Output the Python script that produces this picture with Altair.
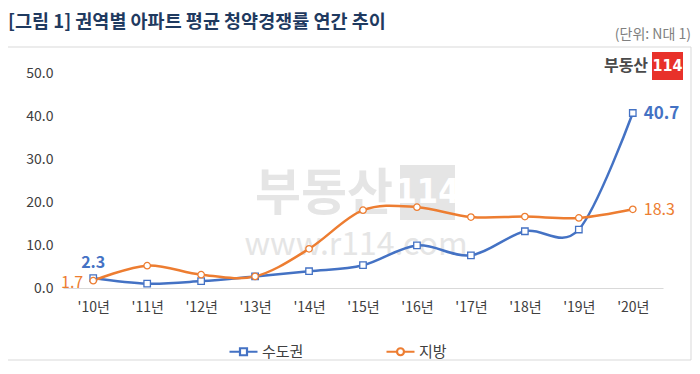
import altair as alt
import pandas as pd

# ---- data ----
years = ["'10년", "'11년", "'12년", "'13년", "'14년", "'15년",
         "'16년", "'17년", "'18년", "'19년", "'20년"]
capital = [2.3, 1.0, 1.6, 2.7, 3.9, 5.3, 9.9, 7.6, 13.2, 13.6, 40.7]
local = [1.7, 5.2, 3.1, 2.7, 9.1, 18.1, 18.8, 16.5, 16.6, 16.3, 18.3]
series_names = ["수도권", "지방"]
colors = ["#4472C4", "#ED7D31"]
y_ticks = [0, 10, 20, 30, 40, 50]

title_text = "[그림 1] 권역별 아파트 평균 청약경쟁률 연간 추이"
unit_text = "(단위: N대 1)"

rows = []
for i, yr in enumerate(years):
    rows.append({"year": yr, "series": series_names[0], "value": capital[i], "idx": i})
    rows.append({"year": yr, "series": series_names[1], "value": local[i], "idx": i})
df = pd.DataFrame(rows)
last = len(years) - 1

FONT = "Noto Sans CJK KR"
BLUE, ORANGE = colors

x_enc = alt.X("year:N", sort=years,
              scale=alt.Scale(type="point", padding=0.56),
              axis=alt.Axis(title=None, labelAngle=0, ticks=False, grid=False,
                            domainColor="#d9d9d9", domainWidth=1,
                            labelPadding=12, labelFontSize=14,
                            labelColor="#404040", labelFont=FONT))
y_enc = alt.Y("value:Q", scale=alt.Scale(domain=[0, 50], nice=False),
              axis=alt.Axis(title=None, values=y_ticks, format=".1f", ticks=False,
                            domain=False, grid=False, labelPadding=10,
                            labelFontSize=14, labelColor="#404040", labelFont=FONT))
color_scale = alt.Scale(domain=series_names, range=colors)

sq_path = "M-1,0H-0.25M0.25,0H1M-0.25,-0.25H0.25V0.25H-0.25Z"
ci_path = ("M-1,0H-0.25M0.25,0H1M-0.25,0A0.25,0.25 0 1,0 0.25,0"
           "A0.25,0.25 0 1,0 -0.25,0Z")
shape_scale = alt.Scale(domain=series_names, range=[sq_path, ci_path])

legend_def = alt.Legend(orient="none", legendX=165, legendY=263,
                        direction="horizontal", title=None)

base = alt.Chart(df)
one = alt.Data(values=[{}])

# frame
frame = alt.Chart(one).mark_rect(fillOpacity=0, stroke="#d9d9d9", strokeWidth=1).encode(
    x=alt.value(-60), x2=alt.value(628), y=alt.value(-26), y2=alt.value(287))

# title & unit
title = alt.Chart(one).mark_text(align="left", baseline="middle", fontSize=18.5,
                                 fontWeight="bold", font=FONT, color="#1f3a60").encode(
    x=alt.value(-55), y=alt.value(-51), text=alt.value(title_text))
unit = alt.Chart(one).mark_text(align="right", baseline="middle", fontSize=14,
                                font=FONT, color="#808080").encode(
    x=alt.value(628), y=alt.value(-38), text=alt.value(unit_text))

# watermark
WM = "#e5e5e5"
wm1 = alt.Chart(one).mark_text(align="center", baseline="middle", fontSize=50,
                               fontWeight="bold", font=FONT, color=WM).encode(
    x=alt.value(261), y=alt.value(122), text=alt.value("부동산"))
wm_box = alt.Chart(one).mark_rect(color=WM).encode(
    x=alt.value(337), x2=alt.value(392), y=alt.value(92), y2=alt.value(147))
wm2 = alt.Chart(one).mark_text(align="center", baseline="middle", fontSize=34,
                               fontWeight="bold", font="DejaVu Sans Condensed",
                               color="white").encode(
    x=alt.value(364.5), y=alt.value(120), text=alt.value("114"))
wm3 = alt.Chart(one).mark_text(align="center", baseline="middle", fontSize=32,
                               font=FONT, color=WM).encode(
    x=alt.value(293), y=alt.value(172), text=alt.value("www.r114.com"))

# logo
logo1 = alt.Chart(one).mark_text(align="center", baseline="middle", fontSize=16,
                                 fontWeight="bold", font=FONT, color="#4a4a4a").encode(
    x=alt.value(563), y=alt.value(-7), text=alt.value("부동산"))
logo_box = alt.Chart(one).mark_rect(color="#e8312a").encode(
    x=alt.value(589), x2=alt.value(620), y=alt.value(-21), y2=alt.value(7))
logo2 = alt.Chart(one).mark_text(align="center", baseline="middle", fontSize=16,
                                 fontWeight="bold", font="DejaVu Sans Condensed",
                                 color="white").encode(
    x=alt.value(604.5), y=alt.value(-7), text=alt.value("114"))

# lines
lines = base.mark_line(interpolate="cardinal", strokeWidth=2.5).encode(
    x=x_enc, y=y_enc,
    color=alt.Color("series:N", scale=color_scale, legend=legend_def))

pts_cap = base.transform_filter(alt.datum.series == series_names[0]).mark_point(
    shape="square", filled=True, fill="white", stroke=BLUE, strokeWidth=1.3,
    size=42, opacity=1).encode(x=x_enc, y=y_enc)
pts_loc = base.transform_filter(alt.datum.series == series_names[1]).mark_point(
    shape="circle", filled=True, fill="white", stroke=ORANGE, strokeWidth=1.3,
    size=42, opacity=1).encode(x=x_enc, y=y_enc)

# legend layer: its own marks sit outside the clipped plot, only the legend shows
legend_layer = base.mark_point(
    filled=False, size=784, strokeWidth=2.2, opacity=1, clip=True).encode(
    x=x_enc, y=alt.value(5000),
    color=alt.Color("series:N", scale=color_scale, legend=legend_def),
    shape=alt.Shape("series:N", scale=shape_scale, legend=legend_def))

# data labels
lab_cap_first = base.transform_filter(
    (alt.datum.series == series_names[0]) & (alt.datum.idx == 0)).mark_text(
    dy=-15, fontSize=16, fontWeight="bold", font=FONT, color=BLUE).encode(
    x=x_enc, y=y_enc, text=alt.Text("value:Q", format=".1f"))
lab_loc_first = base.transform_filter(
    (alt.datum.series == series_names[1]) & (alt.datum.idx == 0)).mark_text(
    dx=-10, dy=2, align="right", fontSize=16, font=FONT, color=ORANGE).encode(
    x=x_enc, y=y_enc, text=alt.Text("value:Q", format=".1f"))
lab_cap_last = base.transform_filter(
    (alt.datum.series == series_names[0]) & (alt.datum.idx == last)).mark_text(
    dx=11, dy=1, align="left", fontSize=17, fontWeight="bold", font=FONT,
    color=BLUE).encode(x=x_enc, y=y_enc, text=alt.Text("value:Q", format=".1f"))
lab_loc_last = base.transform_filter(
    (alt.datum.series == series_names[1]) & (alt.datum.idx == last)).mark_text(
    dx=11, dy=1, align="left", fontSize=16, font=FONT, color=ORANGE).encode(
    x=x_enc, y=y_enc, text=alt.Text("value:Q", format=".1f"))

chart = alt.layer(
    frame, title, unit, wm1, wm_box, wm2, wm3, logo1, logo_box, logo2,
    lines, pts_cap, pts_loc, legend_layer,
    lab_cap_first, lab_loc_first, lab_cap_last, lab_loc_last,
).properties(
    width=600, height=215,
    autosize=alt.AutoSizeParams(type="none"),
    padding={"left": 55, "top": 65, "right": 29, "bottom": 74},
    background="white",
).configure_view(stroke=None).configure_legend(
    labelFontSize=15, labelFont=FONT, labelColor="#404040",
    labelOffset=3, columnPadding=78, padding=0, symbolStrokeWidth=2.2,
    symbolOpacity=1, symbolSize=784, symbolFillColor="white",
)

chart.save("out.html", embed_options={"renderer": "svg", "actions": False})
